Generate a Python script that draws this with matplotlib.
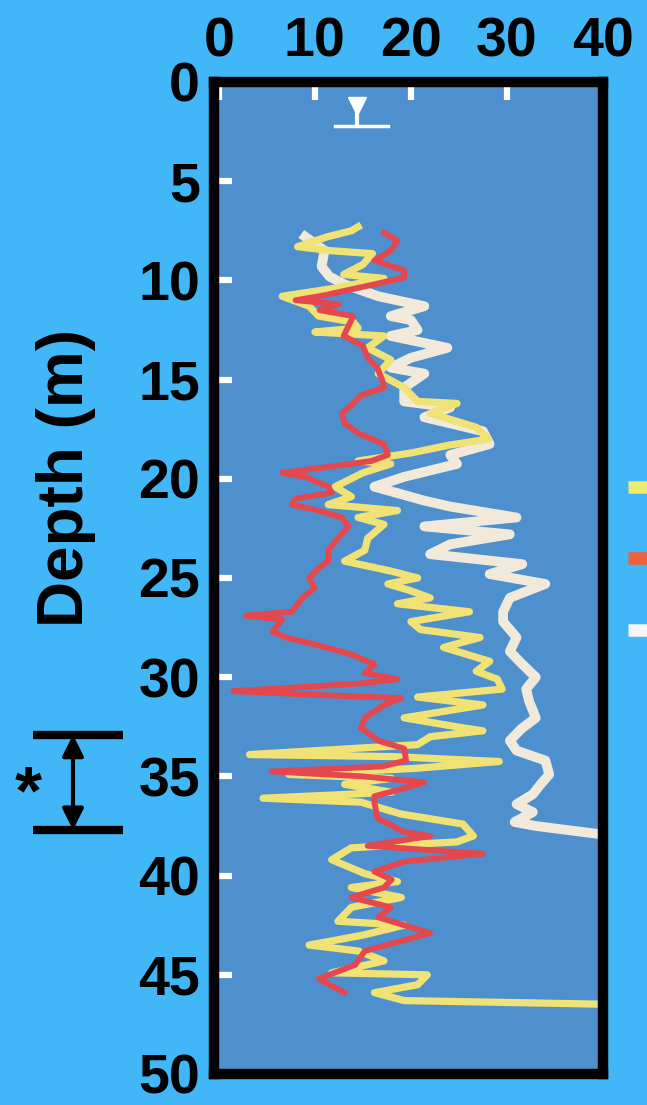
import matplotlib
matplotlib.use("Agg")
import matplotlib.pyplot as plt
import matplotlib.transforms as mtransforms
from matplotlib.lines import Line2D
import numpy as np

# ── Data (depth m, value) ─────────────────────────────────────────────────────
red_profile = [
    (7.6, 17.2), (8.0, 18.6), (8.5, 17.9), (9.0, 16.2), (9.5, 19.3), (9.85, 19.3),
    (10.2, 16.2), (10.45, 13.8), (10.75, 11.0), (11.0, 8.0), (11.2, 12.5), (11.5, 10.5),
    (11.8, 14.0), (12.3, 13.5), (12.8, 13.0), (13.3, 15.0), (13.9, 15.5), (14.4, 16.5),
    (15.0, 17.0), (15.4, 17.2), (15.8, 14.8), (16.3, 13.8), (16.7, 12.8), (17.2, 13.1),
    (17.7, 14.5), (18.25, 17.2), (18.8, 17.6), (19.1, 15.9), (19.4, 11.4), (19.7, 6.6),
    (19.9, 9.0), (20.4, 11.4), (20.7, 11.75), (21.0, 8.0), (21.3, 7.6), (21.6, 10.4),
    (21.95, 12.8), (22.4, 13.5), (23.0, 12.4), (23.6, 11.4), (24.15, 11.4), (24.5, 10.4),
    (25.0, 9.4), (25.5, 10.0), (26.0, 8.7), (26.7, 7.6), (26.9, 2.8), (27.1, 6.6),
    (27.7, 5.6), (28.0, 7.0), (28.4, 10.4), (28.85, 13.8), (29.35, 16.2), (29.8, 15.2),
    (30.1, 18.6), (30.3, 15.2), (30.45, 10.4), (30.7, 1.5), (30.9, 10.4), (31.05, 19.0),
    (31.4, 17.2), (32.05, 15.2), (32.55, 14.8), (33.2, 16.6), (33.6, 19.3), (34.2, 19.5),
    (34.5, 17.0), (34.75, 5.5), (35.0, 15.0), (35.3, 21.4), (35.6, 19.3), (36.0, 16.2),
    (36.3, 16.2), (37.1, 16.5), (37.8, 19.3), (38.0, 22.0), (38.5, 15.5), (38.9, 27.5),
    (39.3, 19.3), (39.8, 16.2), (40.2, 18.0), (40.6, 17.2), (41.1, 13.8), (41.6, 17.9),
    (42.1, 16.6), (42.9, 22.0), (43.8, 15.2), (44.5, 14.2), (45.2, 10.4), (45.5, 11.5),
    (45.9, 13.1),
]

yellow_profile = [
    (7.3, 14.5), (7.5, 13.8), (7.8, 11.3), (8.3, 8.2), (8.5, 11.6), (8.65, 16.0),
    (9.2, 15.0), (9.7, 13.0), (9.9, 17.2), (10.4, 12.0), (10.8, 6.6), (11.3, 9.4),
    (11.8, 10.4), (12.1, 14.0), (12.4, 14.5), (12.6, 10.0), (12.8, 17.2), (13.4, 15.5),
    (14.0, 17.9), (14.7, 16.6), (15.4, 19.3), (16.1, 20.7), (16.2, 24.8), (16.7, 22.0),
    (17.4, 26.8), (18.0, 28.1), (18.3, 24.0), (18.7, 20.0), (19.1, 14.5), (19.25, 17.9),
    (19.7, 15.0), (20.4, 12.1), (20.9, 13.8), (21.3, 11.4), (21.6, 18.6), (21.95, 14.5),
    (22.3, 17.2), (23.0, 15.5), (23.6, 15.2), (24.15, 13.1), (24.65, 17.9), (25.0, 20.7),
    (25.3, 17.6), (25.6, 19.7), (26.0, 22.0), (26.3, 18.6), (26.7, 26.1), (27.2, 20.0),
    (27.6, 21.0), (28.0, 27.2), (28.5, 23.4), (29.2, 28.2), (29.7, 26.8), (30.1, 29.0),
    (30.6, 29.5), (31.0, 20.7), (31.4, 27.5), (32.05, 19.3), (32.55, 25.4), (32.7, 27.5),
    (33.0, 22.0), (33.4, 20.7), (33.9, 3.2), (34.0, 18.0), (34.25, 29.2), (34.6, 20.3),
    (34.9, 7.3), (35.1, 18.0), (35.4, 13.1), (35.8, 18.0), (36.1, 4.6), (36.3, 14.8),
    (36.9, 19.0), (37.4, 25.4), (38.0, 26.5), (38.3, 24.8), (38.6, 13.8), (39.2, 11.75),
    (39.9, 15.2), (40.3, 18.6), (40.6, 13.8), (41.1, 19.0), (41.6, 13.8), (42.3, 12.4),
    (42.5, 19.3), (43.0, 15.0), (43.5, 9.4), (43.8, 14.5), (44.3, 17.2), (44.9, 11.75),
    (45.0, 21.7), (45.5, 20.7), (45.9, 16.2), (46.3, 19.3), (46.5, 42.0),
]

white_profile = [
    (7.8, 9.0), (8.5, 11.0), (9.3, 10.7), (9.8, 11.5), (10.2, 13.1), (10.8, 16.6),
    (11.3, 21.4), (11.8, 17.9), (12.0, 20.0), (12.5, 20.7), (12.8, 17.9), (13.4, 23.8),
    (13.9, 20.0), (14.4, 17.9), (14.7, 21.4), (15.4, 19.3), (16.1, 19.3), (16.4, 24.1),
    (16.9, 21.4), (17.6, 27.5), (18.25, 28.2), (18.8, 24.1), (19.25, 24.8), (19.9, 19.3),
    (20.4, 16.2), (21.1, 21.4), (21.4, 24.1), (21.95, 31.0), (22.4, 21.4), (22.8, 30.3),
    (23.3, 24.1), (23.8, 22.0), (24.3, 31.6), (24.8, 28.2), (25.3, 34.0), (26.0, 30.3),
    (26.7, 29.6), (27.2, 29.6), (28.0, 31.0), (28.7, 30.3), (29.3, 31.5), (30.0, 33.0),
    (30.6, 32.0), (31.2, 32.3), (32.05, 33.0), (32.6, 31.5), (33.2, 30.3), (33.7, 31.0),
    (34.2, 34.0), (34.9, 34.4), (35.4, 33.5), (35.9, 32.7), (36.4, 31.0), (36.8, 32.7),
    (37.3, 30.8), (37.5, 33.0), (37.9, 39.5), (37.95, 42.0),
]

x_ticks = [0, 10, 20, 30, 40]
depth_ticks = [0, 5, 10, 15, 20, 25, 30, 35, 40, 45, 50]

water_table_depth = 2.2
water_table_mark = 14.4
water_table_x = [12.1, 17.6]
interval_depths = [32.9, 37.7]   # bracket marked with "*"

# ── Style ─────────────────────────────────────────────────────────────────────
BG = "#41B7F8"
AX_BG = "#4E90CD"
C_RED = "#E5474F"
C_YEL = "#F0E274"
C_WHT = "#F1EADB"
FONT = 40

plt.rcParams["font.family"] = ["Liberation Sans", "DejaVu Sans"]
plt.rcParams["font.weight"] = "bold"

fig = plt.figure(figsize=(6.47, 11.05), dpi=100)
fig.patch.set_facecolor(BG)
ax = fig.add_axes([214 / 647, 1 - 1074 / 1105, 389 / 647, 992 / 1105])
ax.set_facecolor(AX_BG)

for prof, col, lw, z in [
    (white_profile, C_WHT, 7.0, 2),
    (yellow_profile, C_YEL, 5.2, 3),
    (red_profile, C_RED, 4.2, 4),
]:
    d, v = np.array(prof).T
    ax.plot(v, d, color=col, lw=lw, solid_joinstyle="round", zorder=z)

# water table symbol
ax.plot(water_table_x, [water_table_depth] * 2, color="white", lw=2.5, zorder=5)
ax.plot([water_table_mark] * 2, [1.35, water_table_depth],
        color="white", lw=3, zorder=5)
ax.plot([water_table_mark], [1.2], marker="v", ms=13, color="white",
        zorder=5, lw=0)

ax.set_xlim(-0.5, 40)
ax.set_ylim(50, 0)
ax.xaxis.tick_top()
ax.set_xticks(x_ticks)
ax.set_yticks(depth_ticks)
ax.tick_params(direction="in", length=13, width=4.5, color="white",
               labelsize=FONT, pad=10)
for lab in ax.get_xticklabels() + ax.get_yticklabels():
    lab.set_fontweight("bold")
for s in ax.spines.values():
    s.set_linewidth(7.5)
    s.set_color("black")
    s.set_zorder(10)

fig.text(66 / 647, 1 - 478 / 1105, "Depth (m)", rotation=90, ha="center",
         va="center", fontsize=46, fontweight="bold")

# bracket with arrows on the left
trans = mtransforms.blended_transform_factory(fig.transFigure, ax.transData)
for dep in interval_depths:
    fig.add_artist(Line2D([33 / 647, 123 / 647], [dep, dep], transform=trans,
                          color="black", lw=6, solid_capstyle="butt"))
ax.annotate("", xy=(73 / 647, interval_depths[0]), xycoords=trans,
            xytext=(73 / 647, interval_depths[1]), textcoords=trans,
            arrowprops=dict(arrowstyle="<|-|>", color="black", lw=3,
                            mutation_scale=32, shrinkA=0, shrinkB=0),
            annotation_clip=False)
fig.text(28 / 647, 1 - 795 / 1105, "*", ha="center", va="center",
         fontsize=50, fontweight="bold")

# legend stubs (cut off at the right edge)
for yy, col in [(487, "#EEEC6E"), (558, "#F0603A"), (630, "#F6F6F6")]:
    fig.add_artist(Line2D([628 / 647, 1.0], [1 - yy / 1105] * 2,
                          transform=fig.transFigure, color=col, lw=9,
                          solid_capstyle="butt"))

fig.savefig("out.png", dpi=100, facecolor=BG)
